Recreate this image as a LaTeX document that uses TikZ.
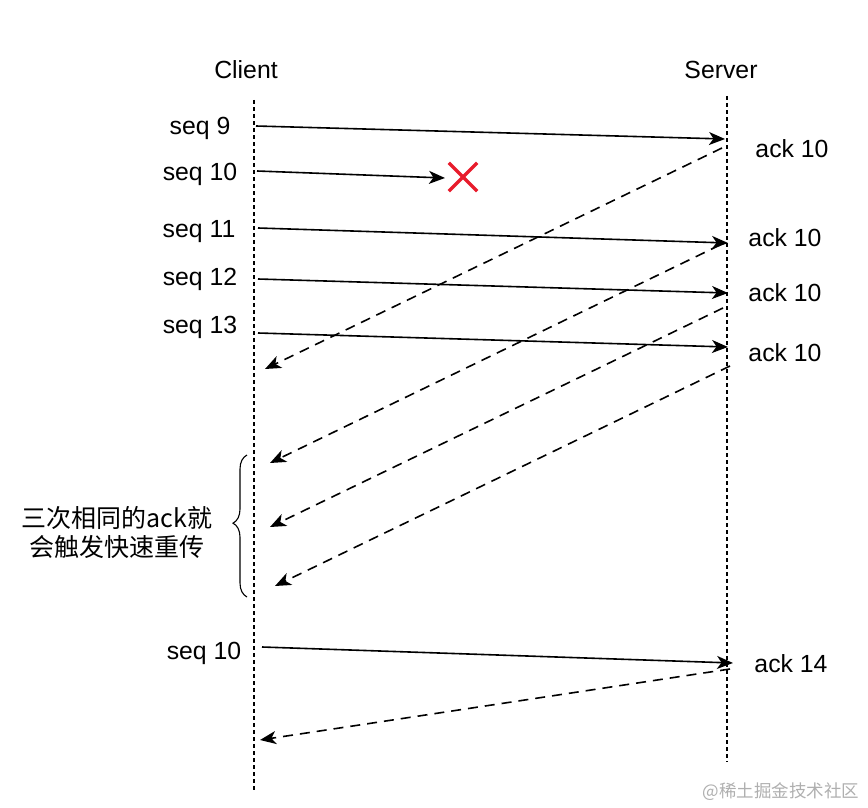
\documentclass[tikz,border=0pt]{standalone}
\usepackage{fontspec}
\setmainfont{Liberation Sans}
\newfontfamily\cjk{Noto Sans CJK SC}
\usetikzlibrary{arrows.meta,decorations.pathreplacing}
\definecolor{crossred}{RGB}{232,28,44}
\definecolor{wmgray}{RGB}{175,175,175}
\begin{document}
\begin{tikzpicture}[x=1pt,y=-1pt,
  lbl/.style={font=\fontsize{24.8}{28}\selectfont, anchor=base, inner sep=0pt},
  msg/.style={line width=1.6pt, -{Stealth[length=16pt,width=13pt,inset=4.5pt]}},
  reply/.style={msg, dash pattern=on 10pt off 7pt},
  life/.style={line width=1.1pt, dash pattern=on 4pt off 3pt}]
\useasboundingbox (0,0) rectangle (868,808);

% headers
\node[lbl] (client) at (246,79) {Client};
\node[lbl] (server) at (721,79) {Server};

% lifelines
\coordinate (ctop) at (254,100);
\coordinate (cbot) at (254,790);
\coordinate (stop) at (727,96);
\coordinate (sbot) at (727,762);
\draw[life] (ctop) -- (cbot);
\draw[life] (stop) -- (sbot);

% seq labels
\node[lbl] (s9)  at (200,134) {seq 9};
\node[lbl] (s10) at (200,180) {seq 10};
\node[lbl] (s11) at (199,237) {seq 11};
\node[lbl] (s12) at (200,285) {seq 12};
\node[lbl] (s13) at (200,333) {seq 13};
\node[lbl] (s10b) at (204,659) {seq 10};

% ack labels
\node[lbl] (a1) at (792,157) {ack 10};
\node[lbl] (a2) at (785,246) {ack 10};
\node[lbl] (a3) at (785,301) {ack 10};
\node[lbl] (a4) at (785,361) {ack 10};
\node[lbl] (a5) at (791,672) {ack 14};

% message endpoints
\coordinate (m1s) at (256,126);  \coordinate (m1e) at (725,139);
\coordinate (m2s) at (257,171);  \coordinate (m2e) at (445,178);
\coordinate (m3s) at (258,228);  \coordinate (m3e) at (728,243);
\coordinate (m4s) at (258,279);  \coordinate (m4e) at (728,293);
\coordinate (m5s) at (258,333);  \coordinate (m5e) at (728,347);
\coordinate (m6s) at (262,647);  \coordinate (m6e) at (733,663);

\draw[msg] (m1s) -- (m1e);
\draw[msg] (m2s) -- (m2e);
\draw[msg] (m3s) -- (m3e);
\draw[msg] (m4s) -- (m4e);
\draw[msg] (m5s) -- (m5e);
\draw[msg] (m6s) -- (m6e);

% replies
\coordinate (r1s) at (722,148); \coordinate (r1e) at (265,369);
\coordinate (r2s) at (720,245); \coordinate (r2e) at (270,463);
\coordinate (r3s) at (723,308); \coordinate (r3e) at (270,527);
\coordinate (r4s) at (730,366); \coordinate (r4e) at (275,586);
\coordinate (r5s) at (730,669); \coordinate (r5e) at (260,740);

\draw[reply] (r1s) -- (r1e);
\draw[reply] (r2s) -- (r2e);
\draw[reply] (r3s) -- (r3e);
\draw[reply] (r4s) -- (r4e);
\draw[reply] (r5s) -- (r5e);

% lost packet cross
\node[minimum size=28pt, inner sep=0pt] (lost) at (463,177) {};
\draw[crossred, line width=3.2pt] (lost.north west) -- (lost.south east)
  (lost.south west) -- (lost.north east);

% brace
\coordinate (bbot) at (247,597);
\coordinate (btop) at (247,455);
\draw[line width=1.1pt, decorate, decoration={brace, amplitude=14pt, aspect=0.52}] (bbot) -- (btop);
\node[font=\cjk\fontsize{25}{29}\selectfont, align=center, inner sep=0pt] (note) at (117,532)
  {三次相同的ack就\\会触发快速重传};

% watermark
\node[font=\cjk\fontsize{17.5}{20}\selectfont, text=wmgray, inner sep=0pt] (wm) at (781,792) {@稀土掘金技术社区};
\end{tikzpicture}
\end{document}
